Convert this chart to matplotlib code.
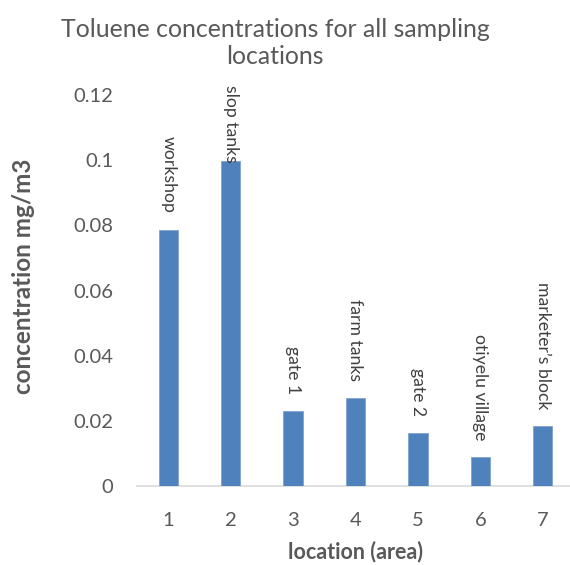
import matplotlib
matplotlib.use("Agg")
import matplotlib.pyplot as plt

locations = [1, 2, 3, 4, 5, 6, 7]
concentrations = [0.0785, 0.0998, 0.0231, 0.0271, 0.0162, 0.0088, 0.0183]
site_names = ["workshop", "slop tanks", "gate 1", "farm tanks", "gate 2",
              "otiyelu village", "marketer\u2019s block"]
y_ticks = [0, 0.02, 0.04, 0.06, 0.08, 0.1, 0.12]
y_tick_labels = ["0", "0.02", "0.04", "0.06", "0.08", "0.1", "0.12"]

plt.rcParams['font.family'] = ['Lato', 'DejaVu Sans']

W, H = 570, 565
fig = plt.figure(figsize=(W / 100, H / 100), dpi=100)
ax = fig.add_axes([137 / W, (H - 486) / H, (574 - 137) / W, (486 - 95) / H])

bars = ax.bar(locations, concentrations, width=0.31, color="#4F81BD",
              edgecolor="#7FA3D1", linewidth=0.6, zorder=3)

ax.set_xlim(0.5, 7.5)
ax.set_ylim(0, 0.12)
ax.set_yticks(y_ticks)
ax.set_yticklabels(y_tick_labels)
ax.set_xticks(locations)
ax.set_xticklabels([str(v) for v in locations])
ax.tick_params(axis='both', length=0, labelsize=14.5, colors="#595959")
ax.tick_params(axis='y', pad=17)
ax.tick_params(axis='x', pad=19)
for s in ["top", "right", "left"]:
    ax.spines[s].set_visible(False)
ax.spines["bottom"].set_color("#D9D9D9")
ax.spines["bottom"].set_linewidth(1.2)
ax.spines["bottom"].set_clip_on(False)

fig.text(355 / W, 1 - 552 / H, "location (area)", ha="center", va="center",
         fontsize=15.5, fontweight="bold", color="#595959")
fig.text(24 / W, 1 - 276 / H, "concentration mg/m3", ha="center", va="center",
         rotation=90, fontsize=17.5, fontweight="bold", color="#595959")

fig.text(275 / W, 1 - 43 / H, "Toluene concentrations for all sampling\nlocations",
         ha="center", va="center", fontsize=17.9, color="#595959",
         linespacing=1.22)

texts = []
for x, v, name in zip(locations, concentrations, site_names):
    t = ax.annotate(name, xy=(x, v), xytext=(0, 17), textcoords="offset pixels",
                    ha="center", va="bottom", rotation=270, fontsize=12.7,
                    color="#404040", annotation_clip=False)
    texts.append(t)

fig.canvas.draw()
limit_top = H - 85
for t in texts:
    bb = t.get_window_extent()
    if bb.y1 > limit_top:
        dx, dy = t.xyann
        t.xyann = (dx, dy - (bb.y1 - limit_top))

fig.savefig("out.png", dpi=100)
